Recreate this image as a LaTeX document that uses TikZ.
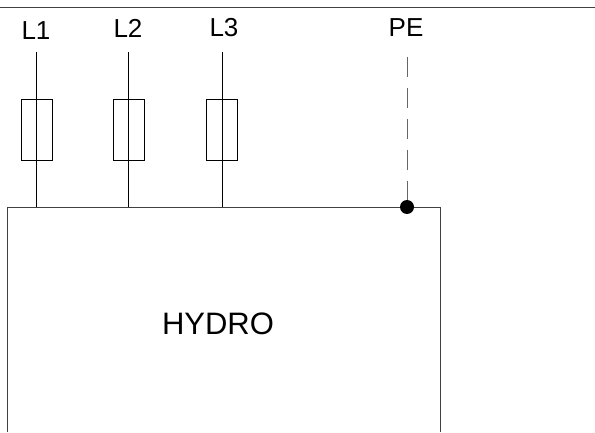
\documentclass[tikz,border=0pt]{standalone}
\usepackage{fontspec}
\setmainfont{Liberation Sans}
\usetikzlibrary{positioning}
\tikzset{
 wire/.style={line width=0.8pt},
 earth/.style={line width=1pt, black!60, dash pattern=on 20pt off 11pt},
 fuse/.style={draw, line width=0.6pt, rectangle, minimum width=31pt, minimum height=61pt, inner sep=0pt},
 tag/.style={font=\fontsize{26}{28}\selectfont, inner sep=0pt, anchor=center},
 dot/.style={circle, fill=black, minimum size=14pt, inner sep=0pt},
}
\begin{document}
\begin{tikzpicture}[x=1pt,y=1pt]
 \useasboundingbox (0,0) rectangle (595,432);
 % top edge
 \coordinate (edgeL) at (0,424.5);
 \coordinate (edgeR) at (595,424.5);
 \draw [wire, black!75] (edgeL) -- (edgeR);
 % open housing
 \coordinate (boxBL) at (7.5,0);
 \coordinate (boxTL) at (7.5,225);
 \coordinate (boxTR) at (440,225);
 \coordinate (boxBR) at (440,0);
 \draw [wire, black!75] (boxBL) -- (boxTL) -- (boxTR) -- (boxBR);
 \node [tag, font=\fontsize{31}{33}\selectfont] (hydro) at (218,108.5) {HYDRO};
 % phase wires
 \coordinate (top1) at (36,380);
 \coordinate [right=92.5pt of top1] (top2);
 \coordinate [right=93.5pt of top2] (top3);
 \coordinate (tap1) at (36,225);
 \coordinate [right=92.5pt of tap1] (tap2);
 \coordinate [right=93.5pt of tap2] (tap3);
 \node [tag] (L1) at (36,401) {L1};
 \node [tag] (L2) at (128,404) {L2};
 \node [tag] (L3) at (224,404) {L3};
 \node [fuse] (fuse1) at (36.5,302) {};
 \node [fuse] (fuse2) at (129,302) {};
 \node [fuse] (fuse3) at (222,302) {};
 \foreach \i in {1,2,3} {
  \draw [wire] (top\i) -- (tap\i);
 }
 % earth
 \node [tag] (PE) at (406,404) {PE};
 \coordinate (topPE) at (407,375);
 \node [dot] (dotPE) at (407,225) {};
 \draw [earth] (topPE) -- (dotPE);
\end{tikzpicture}
\end{document}
